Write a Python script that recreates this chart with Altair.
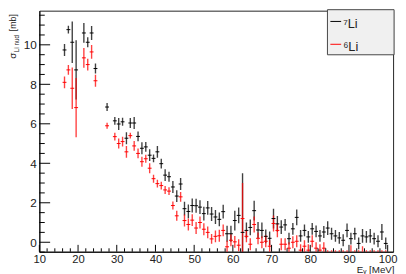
import altair as alt
import pandas as pd

# bin centres [MeV]
energy = [16.5, 17.5, 18.5, 19.5, 21.5, 22.5, 23.5, 24.5, 27.5,
          29.5, 30.5, 31.5, 32.5, 33.5, 34.5, 35.5, 36.5, 37.5, 38.5, 39.5,
          40.5, 41.5, 42.5, 43.5, 44.5, 45.5, 46.5, 47.5, 48.5, 49.5,
          50.5, 51.5, 52.5, 53.5, 54.5, 55.5, 56.5, 57.5, 58.5, 59.5,
          60.5, 61.5, 62.5, 63.5, 64.5, 65.5, 66.5, 67.5, 68.5, 69.5,
          70.5, 71.5, 72.5, 73.5, 74.5, 75.5, 76.5, 77.5, 78.5, 79.5,
          80.5, 81.5, 82.5, 83.5, 84.5, 85.5, 86.5, 87.5, 88.5, 89.5,
          90.5, 91.5, 92.5, 93.5, 94.5, 95.5, 96.5, 97.5, 98.5, 99.5]

li7_val = [9.74, 10.77, 10.13, 8.73, 10.6, 10.13, 10.6, 8.8, 6.85,
           6.15, 5.99, 6.1, 5.27, 6.04, 6.04, 5.36, 4.76, 4.83, 4.41, 4.25,
           4.58, 3.98, 3.4, 3.32, 2.8, 2.34, 2.95, 1.7, 1.56, 1.86,
           1.85, 1.78, 1.45, 1.74, 1.43, 1.28, 1.16, 1.55, 0.43, 0.43,
           1.1, 1.36, 0.5, 0.6, 0.75, 1.6, 0.62, 0.6, 0.3, 0.2,
           1.2, 0.93, 0.77, 0.88, 0.18, 0.68, 1.26, 0.32, 0.6, 0.27,
           0.68, 0.55, 0.32, 0.52, 0.72, 0.43, 0.32, 0.22, 0.1, 0.6,
           0.18, 0.43, -0.06, 0.32, 0.27, 0.32, 0.18, 0.05, 0.52, -0.06]
li7_err = [0.3, 0.2, 1.05, 1.5, 0.5, 0.25, 0.35, 0.25, 0.2,
           0.2, 0.3, 0.2, 0.3, 0.25, 0.3, 0.25, 0.3, 0.25, 0.3, 0.2,
           0.3, 0.25, 0.3, 0.25, 0.3, 0.3, 0.3, 0.35, 0.35, 0.35,
           0.35, 0.35, 0.35, 0.35, 0.35, 0.35, 0.35, 0.35, 0.4, 0.4,
           0.5, 0.4, 3.0, 0.4, 0.4, 0.5, 0.4, 0.4, 0.35, 0.35,
           0.5, 0.4, 0.35, 0.3, 0.3, 0.3, 0.4, 0.3, 0.3, 0.3,
           0.3, 0.3, 0.3, 0.3, 0.35, 0.3, 0.3, 0.3, 0.3, 0.35,
           0.3, 0.3, 0.3, 0.35, 0.3, 0.35, 0.3, 0.3, 0.4, 0.3]

li6_val = [8.1, 8.73, 7.8, 6.82, 9.34, 9.0, 9.64, 8.18, 5.9,
           5.35, 5.0, 5.1, 4.58, 5.4, 4.88, 4.5, 4.08, 4.23, 3.75, 3.22,
           2.97, 2.87, 2.65, 2.59, 1.86, 1.34, 2.3, 1.1, 0.9, 1.12,
           0.72, 1.0, 0.66, 0.5, 0.17, 0.3, 0.33, 0.6, -0.23, 0.1,
           0.02, -0.15, 1.2, 0.3, -0.1, 0.9, 0.2, 0.0, 0.05, -0.2,
           0.95, 0.6, -0.1, -0.1, -0.3, 0.0, 0.05, -0.4, -0.2, -0.4,
           0.05, -0.3, -0.4, -0.3, -0.6, -0.6, -0.6, -0.6, -0.6, -0.6,
           -0.7, -0.6, -0.6, -0.7, -0.6, -0.6, -0.6, -0.6, -0.6, -0.6]
li6_err = [0.3, 0.25, 1.05, 1.5, 0.5, 0.3, 0.35, 0.3, 0.15,
           0.2, 0.25, 0.25, 0.3, 0.15, 0.25, 0.25, 0.25, 0.2, 0.25, 0.2,
           0.2, 0.2, 0.2, 0.2, 0.2, 0.25, 0.25, 0.3, 0.3, 0.3,
           0.3, 0.3, 0.3, 0.3, 0.25, 0.3, 0.3, 0.3, 0.3, 0.3,
           0.3, 0.3, 1.8, 0.3, 0.3, 0.4, 0.3, 0.3, 0.3, 0.3,
           0.4, 0.35, 0.3, 0.3, 0.3, 0.3, 0.3, 0.3, 0.3, 0.3,
           0.3, 0.3, 0.3, 0.3, 0.2, 0.2, 0.2, 0.2, 0.2, 0.2,
           0.55, 0.2, 0.2, 0.5, 0.2, 0.2, 0.2, 0.2, 0.2, 0.2]

series_names = ["⁷Li", "⁶Li"]
series_colors = ["#000000", "#ff0000"]

x_labels = [10, 20, 30, 40, 50, 60, 70, 80, 90, 100]
x_minor = [12, 14, 16, 18, 22, 24, 26, 28, 32, 34, 36, 38, 42, 44, 46, 48,
           52, 54, 56, 58, 62, 64, 66, 68, 72, 74, 76, 78, 82, 84, 86, 88,
           92, 94, 96, 98]
y_labels = [0, 2, 4, 6, 8, 10]
y_minor = [-0.5, 0.5, 1, 1.5, 2.5, 3, 3.5, 4.5, 5, 5.5, 6.5, 7, 7.5,
           8.5, 9, 9.5, 10.5, 11, 11.5]

rows = []
for name, vals, errs in [(series_names[0], li7_val, li7_err),
                         (series_names[1], li6_val, li6_err)]:
    for e, v, s in zip(energy, vals, errs):
        rows.append({"series": name, "E": e, "El": e - 0.5, "Eh": e + 0.5,
                     "val": v, "lo": v - s, "hi": v + s})
df = pd.DataFrame(rows)

W, H = 361, 246
FONT = "Liberation Sans"
xs = alt.Scale(domain=[10, 101.4], nice=False, zero=False)
ys = alt.Scale(domain=[-0.48, 11.73], nice=False, zero=False)
col = alt.Color("series:N", scale=alt.Scale(domain=series_names, range=series_colors), legend=None)

xaxis = alt.Axis(values=x_labels, ticks=False, grid=False, domainColor="black",
                 labelFont=FONT, labelFontSize=11.5, labelColor="#222", labelPadding=2,
                 title="Eᵧ [MeV]", titleFont=FONT, titleFontSize=10, titleFontWeight="normal",
                 titleColor="#222", titleAnchor="end", titleAlign="right", titleX=W + 1, titleY=21,
                 titleBaseline="alphabetic", labelFlush=False)
yaxis = alt.Axis(values=y_labels, ticks=False, grid=False, domainColor="black",
                 labelFont=FONT, labelFontSize=12, labelColor="#222", labelPadding=3,
                 title=None)

vbars = alt.Chart(df).mark_rule(strokeWidth=1.4, opacity=0.75, clip=True).encode(
    x=alt.X("E:Q", scale=xs, axis=xaxis),
    y=alt.Y("lo:Q", scale=ys, axis=yaxis),
    y2="hi:Q",
    color=col,
)
hbars = alt.Chart(df).mark_rule(strokeWidth=1, clip=True).encode(
    x=alt.X("El:Q", scale=xs, axis=xaxis),
    x2="Eh:Q",
    y=alt.Y("val:Q", scale=ys, axis=yaxis),
    color=col,
)

def yticks(vals, length):
    return alt.Chart(pd.DataFrame({"v": vals})).mark_rule(color="black", strokeWidth=1).encode(
        y=alt.Y("v:Q", scale=ys, axis=yaxis), x=alt.value(0), x2=alt.value(length))

def xticks(vals, length):
    return alt.Chart(pd.DataFrame({"v": vals})).mark_rule(color="black", strokeWidth=1).encode(
        x=alt.X("v:Q", scale=xs, axis=xaxis), y=alt.value(H), y2=alt.value(H - length))

def txt(s, x, y, size, **kw):
    return alt.Chart(pd.DataFrame({"t": [s]})).mark_text(
        font=FONT, fontSize=size, color="#222", **kw).encode(
        x=alt.value(x), y=alt.value(y), text="t:N")

ytitle = [
    txt("σ", -23.5, 49, 10, angle=270, align="left", baseline="alphabetic"),
    txt("Li nud", -20.5, 42.5, 6.5, angle=270, align="left", baseline="alphabetic"),
    txt("[mb]", -23.5, 21, 9, angle=270, align="left", baseline="alphabetic"),
]

legend_box = alt.Chart(pd.DataFrame({"a": [0]})).mark_rect(
    fill="#f0f0f0", stroke="#444", strokeWidth=1).encode(
    x=alt.value(294), x2=alt.value(362), y=alt.value(-1), y2=alt.value(45))
leg_items = []
for i, (name, c) in enumerate(zip(series_names, series_colors)):
    yy = 11 + 23.3 * i
    leg_items.append(alt.Chart(pd.DataFrame({"a": [0]})).mark_rule(color=c, strokeWidth=1).encode(
        x=alt.value(297), x2=alt.value(308), y=alt.value(yy)))
    leg_items.append(txt(name, 310, yy + 6.5, 13, align="left", baseline="alphabetic"))

chart = alt.layer(
    vbars, hbars,
    yticks(y_labels, 11), yticks(y_minor, 5.5),
    xticks(x_labels, 7), xticks(x_minor, 3.5),
    *ytitle, legend_box, *leg_items,
).properties(
    width=W, height=H,
    autosize=alt.AutoSizeParams(type="none"),
    padding={"left": 32, "top": 0, "right": 5, "bottom": 20},
).configure_view(stroke="#222", strokeWidth=1)

chart.save("out.html", embed_options={"renderer": "svg", "actions": False})
